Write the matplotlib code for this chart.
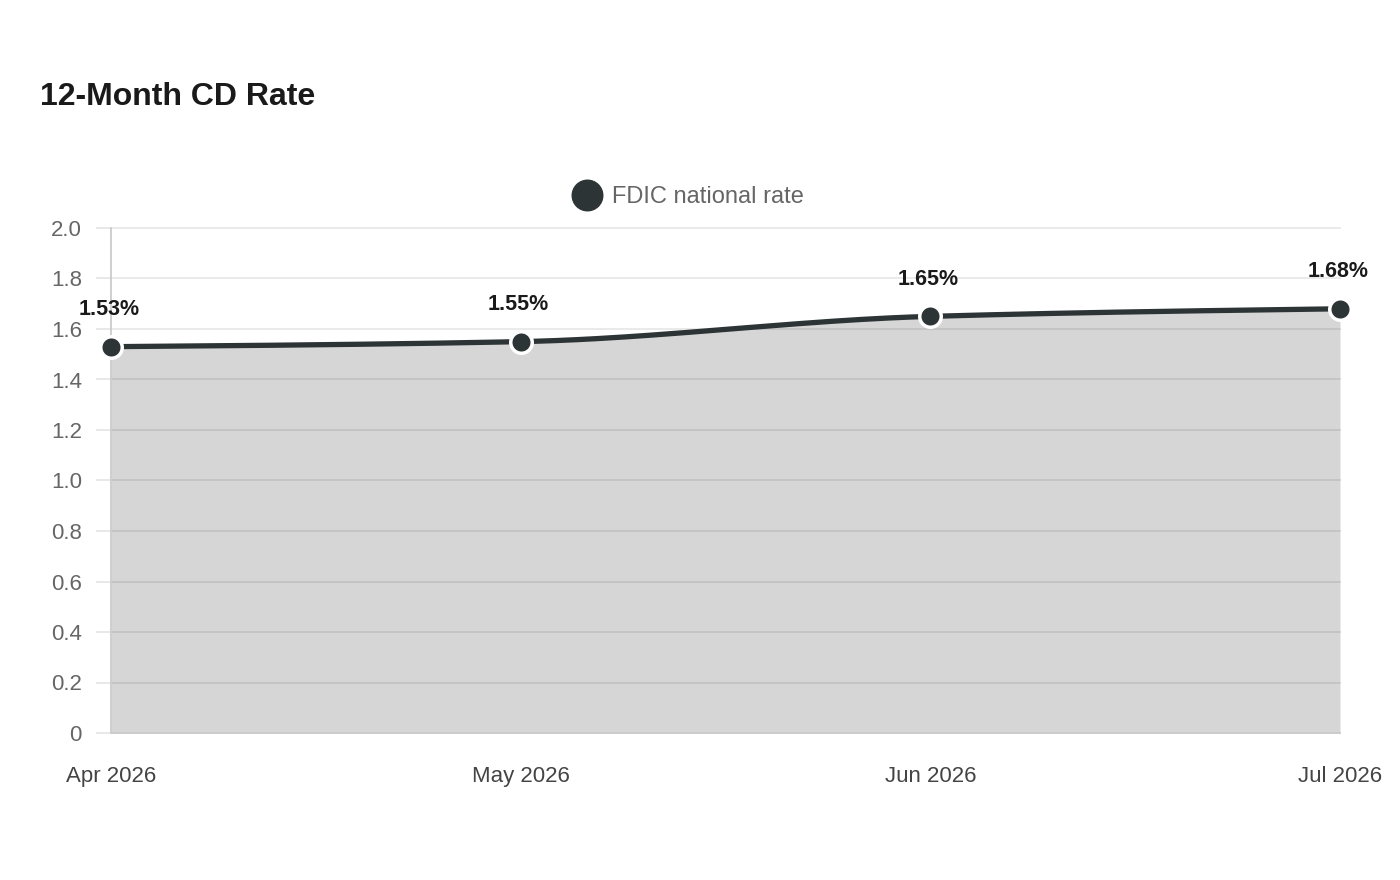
import matplotlib.pyplot as plt
import numpy as np

# Data
months = ["Apr 2026", "May 2026", "Jun 2026", "Jul 2026"]
rates = [1.53, 1.55, 1.65, 1.68]
series_name = "FDIC national rate"
y_ticks = [0, 0.2, 0.4, 0.6, 0.8, 1.0, 1.2, 1.4, 1.6, 1.8, 2.0]
y_tick_labels = ["0", "0.2", "0.4", "0.6", "0.8", "1.0", "1.2", "1.4", "1.6", "1.8", "2.0"]

plt.rcParams['font.family'] = ['Liberation Sans', 'DejaVu Sans']

line_color = "#2d3436"
fill_color = "#d6d6d6"
grid_color = "#e6e6e6"


def monotone_curve(x, y, n=60):
    # Fritsch-Carlson monotone cubic, like d3's curveMonotoneX
    x = np.asarray(x, float)
    y = np.asarray(y, float)
    h = np.diff(x)
    d = np.diff(y) / h
    m = np.zeros_like(y)
    for i in range(1, len(y) - 1):
        if d[i - 1] * d[i] <= 0:
            m[i] = 0
        else:
            m[i] = (h[i - 1] + h[i]) * d[i - 1] * d[i] / (h[i] * d[i - 1] + h[i - 1] * d[i])
    # endpoint slopes as in d3 (one-sided)
    m[0] = (3 * d[0] - m[1]) / 2
    m[-1] = (3 * d[-1] - m[-2]) / 2
    xs, ys = [], []
    for i in range(len(x) - 1):
        t = np.linspace(0, 1, n)
        h00 = 2 * t**3 - 3 * t**2 + 1
        h10 = t**3 - 2 * t**2 + t
        h01 = -2 * t**3 + 3 * t**2
        h11 = t**3 - t**2
        xs.append(x[i] + t * h[i])
        ys.append(h00 * y[i] + h10 * h[i] * m[i] + h01 * y[i + 1] + h11 * h[i] * m[i + 1])
    return np.concatenate(xs), np.concatenate(ys)


x = np.arange(len(months))
cx, cy = monotone_curve(x, rates)

fig = plt.figure(figsize=(14, 8.8), dpi=100)
ax = fig.add_axes([111 / 1400, 147 / 880, 1229 / 1400, 505 / 880])

ax.fill_between(cx, 0, cy, color=fill_color, lw=0, zorder=1)
for yt in y_ticks:
    ax.axhline(yt, color="black", alpha=0.09, lw=1.3, zorder=2, clip_on=False)
ax.plot(cx, cy, color=line_color, lw=3.8, zorder=3, solid_capstyle="round")
ax.scatter(x, rates, s=240, color=line_color, edgecolor="white", linewidth=2.5,
           zorder=4, clip_on=False)

for xi, r in zip(x, rates):
    ax.annotate(f"{r:.2f}%", (xi, r), xytext=(-1.5, 26.5), textcoords="offset points",
                ha="center", va="center", fontsize=15.5, fontweight="bold", color="#1a1a1a")

ax.set_xlim(0, 3)
ax.set_ylim(0, 2.0)
ax.set_yticks(y_ticks)
ax.set_yticklabels(y_tick_labels)
ax.set_xticks(x)
ax.set_xticklabels(months)

for s in ["top", "right"]:
    ax.spines[s].set_visible(False)
ax.spines["left"].set_color("#cccccc")
ax.spines["left"].set_linewidth(1.3)
ax.spines["bottom"].set_color("#cccccc")
ax.spines["bottom"].set_linewidth(1.3)

ax.tick_params(axis="y", length=11, width=1.3, color=grid_color, pad=10,
               labelsize=16, labelcolor="#666666")
ax.tick_params(axis="x", length=0, pad=24, labelsize=16, labelcolor="#444444")

fig.text(40 / 1400, 1 - 97 / 880, "12-Month CD Rate", fontsize=23, fontweight="bold",
         color="#1a1a1a", ha="left", va="center")

# legend
leg_handle = plt.Line2D([], [], marker="o", ls="", markersize=22, color=line_color)
leg = fig.legend([leg_handle], [series_name], loc="center",
                 bbox_to_anchor=(688 / 1400, 1 - 197 / 880), frameon=False,
                 fontsize=17, handletextpad=0.45, handlelength=1.2)
for t in leg.get_texts():
    t.set_color("#666666")

fig.savefig("out.png", dpi=100, facecolor="white")
